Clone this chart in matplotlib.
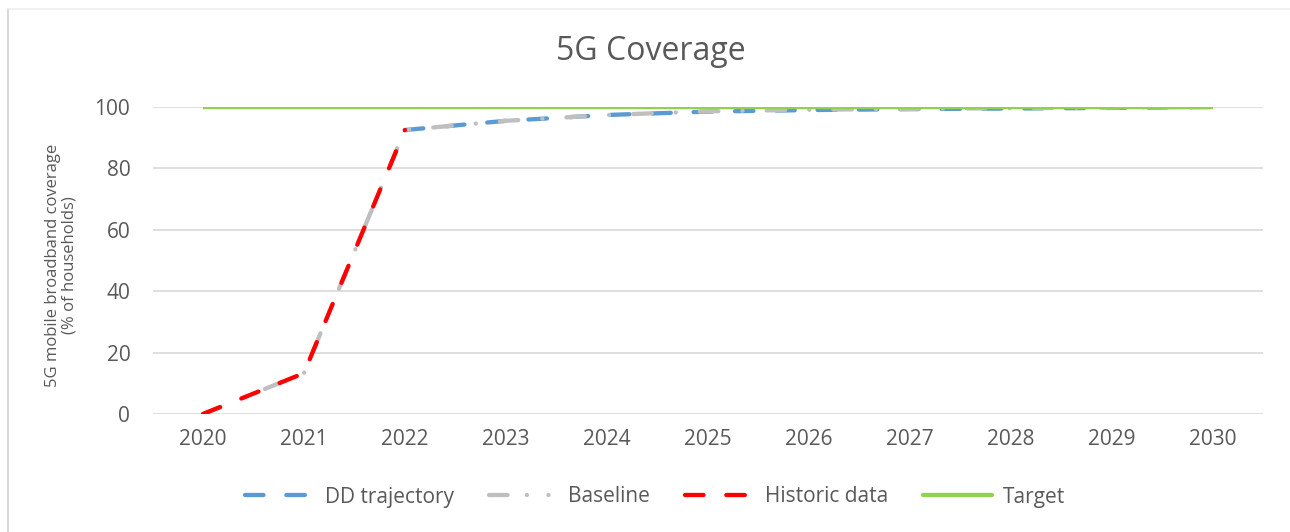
import matplotlib.pyplot as plt
from matplotlib.lines import Line2D

years = ['2020', '2021', '2022', '2023', '2024', '2025', '2026', '2027', '2028', '2029', '2030']
dd_trajectory = [None, None, 92.5, 95.5, 97.4, 98.5, 99.0, 99.3, 99.5, 99.7, 100]
baseline = [0, 13.3, 92.5, 95.5, 97.4, 98.6, 99.1, 99.4, 99.6, 99.8, 100]
historic = [0, 13.3, 92.5, None, None, None, None, None, None, None, None]
target = [100] * 11

txt = '#595959'
blue, grey, red, green = '#5b9bd5', '#bfbfbf', '#ff0000', '#92d050'
plt.rcParams['font.family'] = ['Open Sans', 'DejaVu Sans']

W, H = 1290, 532
fig = plt.figure(figsize=(W / 100, H / 100), dpi=100)
ax = fig.add_axes([152.5 / W, 1 - 414 / H, 1110.5 / W, 307 / H])

x = list(range(len(years)))


def pts(vals):
    xs = [i for i, v in zip(x, vals) if v is not None]
    ys = [v for v in vals if v is not None]
    return xs, ys


dash = (4.3, 5.3)
dashdot = (4.3, 5.6, 0.01, 5.6)
ax.plot(*pts(dd_trajectory), color=blue, lw=3.1, dashes=dash, dash_capstyle='round', zorder=3)
ax.plot(*pts(baseline), color=grey, lw=3.1, dashes=dashdot, dash_capstyle='round', zorder=4)
ax.plot(*pts(historic), color=red, lw=3.1, dashes=dash, dash_capstyle='round', zorder=5)
ax.plot(x, target, color=green, lw=3.1, solid_capstyle='butt', zorder=6)

ax.set_xlim(-0.5, len(years) - 0.5)
ax.set_ylim(0, 100)
ax.set_yticks(range(0, 101, 20))
ax.set_xticks(x)
ax.set_xticklabels(years)
ax.grid(axis='y', color='#d9d9d9', lw=1.2)
ax.set_axisbelow(True)
for s in ax.spines.values():
    s.set_visible(False)
ax.tick_params(length=0, labelsize=15, colors=txt)
ax.tick_params(axis='x', pad=11)
ax.tick_params(axis='y', pad=16)

fig.text(61 / W, 1 - 265 / H, '5G mobile broadband coverage\n(% of households)', rotation=90,
         ha='center', va='center', fontsize=12, color=txt, linespacing=1.0)
fig.text(651 / W, 1 - 52 / H, '5G Coverage', ha='center', va='center', fontsize=23, color=txt)

# legend handles (Excel draws the baseline sample as dash-dot-dot)
handles = [
    Line2D([], [], color=blue, lw=3.1, dashes=dash, dash_capstyle='round'),
    Line2D([], [], color=grey, lw=3.1, dashes=(4.3, 4.5, 0.01, 5, 0.01, 5), dash_capstyle='round'),
    Line2D([], [], color=red, lw=3.1, dashes=dash, dash_capstyle='round'),
    Line2D([], [], color=green, lw=3.1, solid_capstyle='round'),
]
labels = ['DD trajectory', 'Baseline', 'Historic data', 'Target']
ax.legend(handles, labels, loc='center', bbox_to_anchor=(655 / W, 1 - 497 / H),
          bbox_transform=fig.transFigure, ncol=4, frameon=False,
          fontsize=15, labelcolor=txt, handlelength=3.3, columnspacing=1.7, handletextpad=0.5)

fig.add_artist(Line2D([7.5 / W, 7.5 / W], [0, 1 - 9 / H], transform=fig.transFigure,
                      color='#d9d9d9', lw=1.5))
fig.add_artist(Line2D([7.5 / W, 1], [1 - 9 / H, 1 - 9 / H], transform=fig.transFigure,
                      color='#ededed', lw=1.2))

fig.savefig('out.png', dpi=100)
